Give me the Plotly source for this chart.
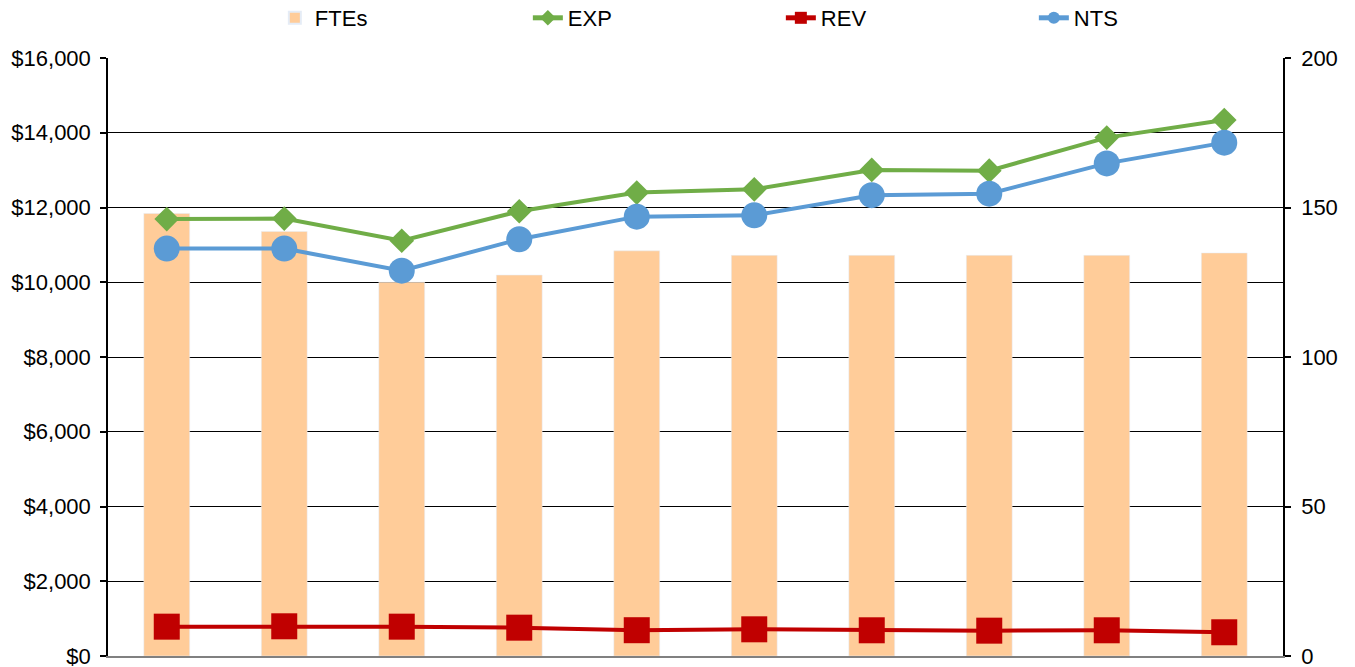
import plotly.graph_objects as go

categories = [str(i) for i in range(1, 11)]
ftes = [148, 142, 125, 127.4, 135.5, 134, 134, 134, 134, 134.8]
exp_vals = [11690, 11705, 11110, 11900, 12400, 12485, 13005, 12985, 13870, 14340]
rev_vals = [785, 795, 785, 758, 690, 714, 688, 678, 688, 635]
nts_vals = [10900, 10900, 10310, 11150, 11755, 11790, 12330, 12370, 13180, 13735]

FONT = "Liberation Sans, Arial, sans-serif"

fig = go.Figure()
fig.add_trace(go.Bar(x=categories, y=ftes, name="FTEs", marker_color="#FFCC99",
                     width=0.39, yaxis="y"))
fig.add_trace(go.Scatter(x=categories, y=exp_vals, name="EXP", mode="lines+markers",
                         line=dict(color="#70AD47", width=4),
                         marker=dict(symbol="diamond", size=19, color="#70AD47"),
                         yaxis="y2"))
fig.add_trace(go.Scatter(x=categories, y=rev_vals, name="REV", mode="lines+markers",
                         line=dict(color="#C00000", width=4),
                         marker=dict(symbol="square", size=26, color="#C00000"),
                         yaxis="y2"))
fig.add_trace(go.Scatter(x=categories, y=nts_vals, name="NTS", mode="lines+markers",
                         line=dict(color="#5B9BD5", width=4),
                         marker=dict(symbol="circle", size=26, color="#5B9BD5"),
                         yaxis="y2"))

fig.update_layout(
    width=1355, height=667,
    margin=dict(l=108, r=72, t=58, b=11, autoexpand=False),
    paper_bgcolor="white", plot_bgcolor="white",
    font=dict(family=FONT, size=22, color="black"),
    showlegend=True,
    legend=dict(orientation="h", x=0.142, xanchor="left", y=1.102, yanchor="top",
                entrywidth=208, entrywidthmode="pixels", traceorder="normal",
                font=dict(size=22), itemsizing="constant"),
    xaxis=dict(type="category", showticklabels=False, ticks="", showgrid=False,
               showline=True, linecolor="#808080", linewidth=2, zeroline=False,
               range=[-0.5, 9.5]),
    yaxis=dict(side="right", range=[0, 200], dtick=50, showgrid=False, zeroline=False,
               showline=True, linecolor="black", linewidth=1.5,
               ticks="outside", ticklen=6, tickcolor="black", tickwidth=1.5,
               ticklabeloverflow="allow", ticklabelstandoff=6),
    yaxis2=dict(side="left", overlaying="y", range=[0, 16000], dtick=2000,
                tickprefix="$", tickformat=",d", showgrid=True, gridcolor="black",
                gridwidth=1.2, zeroline=False, showline=True, linecolor="black",
                linewidth=1.5, ticks="outside", ticklen=6, tickcolor="black",
                tickwidth=1.5, ticklabeloverflow="allow", ticklabelstandoff=5),
)

fig.write_html("out.html")
